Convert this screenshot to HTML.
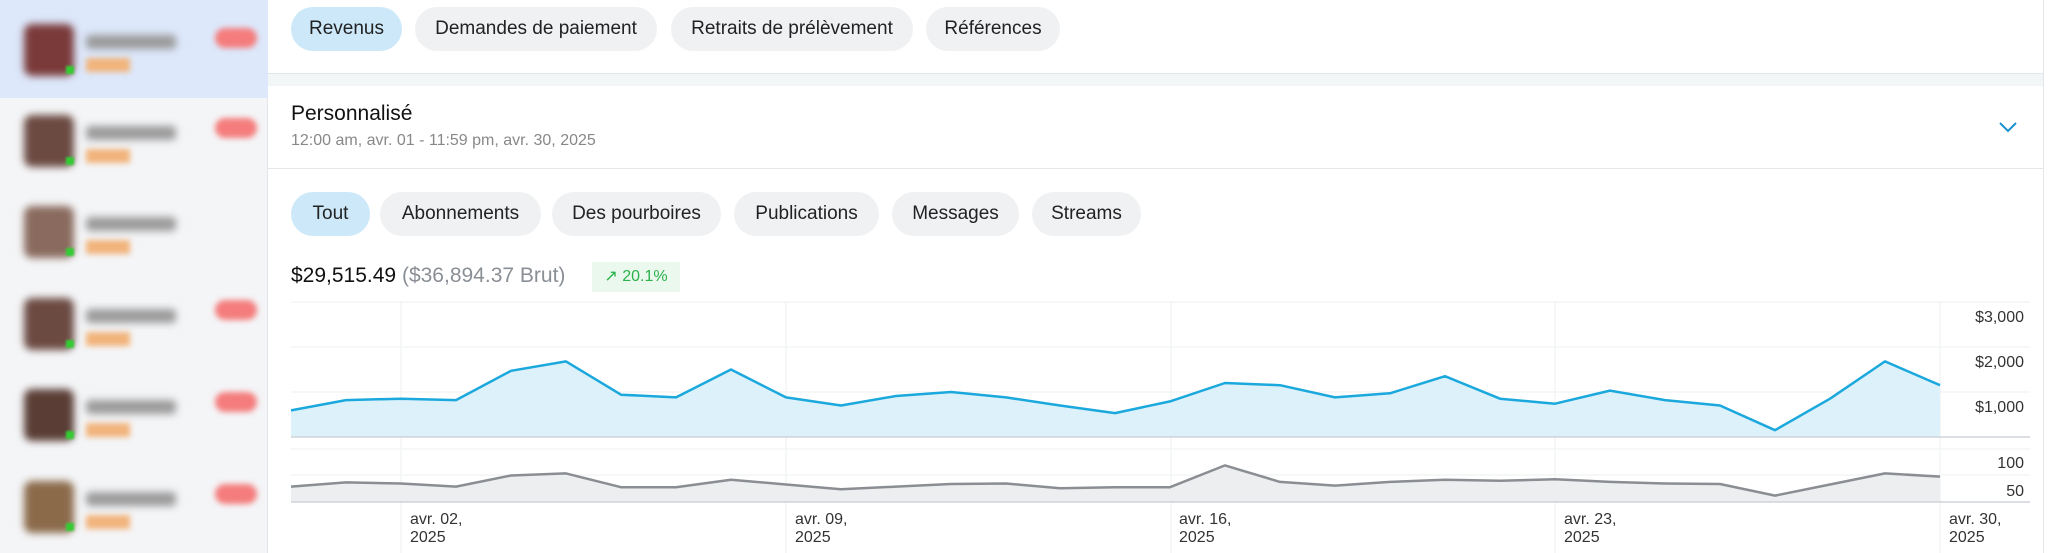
<!DOCTYPE html>
<html><head><meta charset="utf-8"><style>
*{margin:0;padding:0;box-sizing:border-box}
body{width:2048px;height:553px;overflow:hidden;background:#fff;font-family:"Liberation Sans",sans-serif;position:relative;color:#222}
.sb{position:absolute;left:0;top:0;width:268px;height:553px;background:#f4f5f7;border-right:1px solid #e4e6ea}
.sel{position:absolute;left:0;top:0;width:268px;height:98px;background:#dde8fb}
.av{position:absolute;left:24px;width:50px;height:52px;border-radius:8px;background:#6b4a42;filter:blur(4px)}
.nm{position:absolute;left:86px;width:90px;height:14px;background:#9a9a9a;filter:blur(4px);border-radius:4px}
.pr{position:absolute;left:86px;width:44px;height:14px;background:#f1b37a;filter:blur(3px)}
.bd{position:absolute;left:215px;width:42px;height:20px;background:#f47c7c;border-radius:10px;filter:blur(3px)}
.dot{position:absolute;left:66px;width:8px;height:8px;background:#3c3;filter:blur(1px)}
.pill{position:absolute;height:44px;border-radius:22px;background:#f0f1f3;font-size:19px;line-height:44px;text-align:center;color:#222}
.on{background:#cde9f9}
</style></head><body>
<div class="sb"><div class="sel"></div>
<div class="av" style="top:24px;background:#7a3a3a"></div><div class="nm" style="top:35px"></div><div class="pr" style="top:58px"></div><div class="bd" style="top:28px"></div><div class="dot" style="top:66px"></div>
<div class="av" style="top:115px"></div><div class="nm" style="top:126px"></div><div class="pr" style="top:149px"></div><div class="bd" style="top:118px"></div><div class="dot" style="top:157px"></div>
<div class="av" style="top:206px;background:#8a6a5e"></div><div class="nm" style="top:217px"></div><div class="pr" style="top:240px"></div><div class="dot" style="top:248px"></div>
<div class="av" style="top:298px"></div><div class="nm" style="top:309px"></div><div class="pr" style="top:332px"></div><div class="bd" style="top:300px"></div><div class="dot" style="top:340px"></div>
<div class="av" style="top:389px;background:#5a3e36"></div><div class="nm" style="top:400px"></div><div class="pr" style="top:423px"></div><div class="bd" style="top:392px"></div><div class="dot" style="top:431px"></div>
<div class="av" style="top:481px;background:#8b6a4a"></div><div class="nm" style="top:492px"></div><div class="pr" style="top:515px"></div><div class="bd" style="top:484px"></div><div class="dot" style="top:523px"></div>
</div>
<div style="position:absolute;left:2043px;top:0;width:1px;height:553px;background:#e4e6ea"></div>
<div class="pill on" style="left:291px;top:7px;width:111px">Revenus</div>
<div class="pill" style="left:415px;top:7px;width:242px">Demandes de paiement</div>
<div class="pill" style="left:671px;top:7px;width:242px">Retraits de prélèvement</div>
<div class="pill" style="left:926px;top:7px;width:134px">Références</div>
<div style="position:absolute;left:268px;top:73px;width:1775px;height:13px;background:#f2f6f7;border-top:1px solid #e2e6e8"></div>
<div style="position:absolute;left:291px;top:102px;font-size:21px;font-weight:500;color:#111">Personnalisé</div>
<div style="position:absolute;left:291px;top:132px;font-size:16px;color:#888">12:00 am, avr. 01 - 11:59 pm, avr. 30, 2025</div>
<svg style="position:absolute;left:1998px;top:120px" width="20" height="14"><polyline points="2,3 10,11 18,3" fill="none" stroke="#1a8fd0" stroke-width="2"/></svg>
<div style="position:absolute;left:268px;top:168px;width:1775px;height:1px;background:#e4e6ea"></div>
<div class="pill on" style="left:291px;top:192px;width:79px">Tout</div>
<div class="pill" style="left:380px;top:192px;width:161px">Abonnements</div>
<div class="pill" style="left:552px;top:192px;width:169px">Des pourboires</div>
<div class="pill" style="left:734px;top:192px;width:145px">Publications</div>
<div class="pill" style="left:892px;top:192px;width:127px">Messages</div>
<div class="pill" style="left:1032px;top:192px;width:109px">Streams</div>
<div style="position:absolute;left:291px;top:264px;font-size:21px;white-space:nowrap"><span style="color:#111;font-weight:500">$29,515.49</span> <span style="color:#8a8f96">($36,894.37 Brut)</span></div>
<div style="position:absolute;left:592px;top:262px;width:88px;height:30px;background:#eaf8ee;color:#2bb24c;font-size:16px;line-height:30px;text-align:center">↗ 20.1%</div>
<svg style="position:absolute;left:0;top:0" width="2048" height="553" font-family="Liberation Sans, sans-serif">
<g stroke="#eef0f2" stroke-width="1">
<line x1="291" y1="302" x2="2030" y2="302"/><line x1="291" y1="347" x2="2030" y2="347"/><line x1="291" y1="392" x2="2030" y2="392"/>
<line x1="291" y1="449" x2="2030" y2="449"/><line x1="291" y1="475" x2="2030" y2="475"/>
<line x1="401" y1="302" x2="401" y2="553"/><line x1="786" y1="302" x2="786" y2="553"/><line x1="1171" y1="302" x2="1171" y2="553"/><line x1="1555" y1="302" x2="1555" y2="553"/><line x1="1940" y1="302" x2="1940" y2="553"/>
</g>
<polygon fill="#ddf1fb" points="291,437 291,410.4 346,400.1 401,398.7 456,400.1 511,370.8 566,361.4 621,394.7 676,397.4 731,369.5 786,397.4 841,405.5 896,396 951,392 1006,397.4 1060,405.5 1115,413.1 1170,401.4 1225,383 1280,385.2 1335,397.4 1390,393.3 1445,376.2 1500,398.7 1555,403.7 1610,390.6 1665,400.1 1720,405.5 1775,430.2 1830,398.7 1885,361.4 1940,385.2 1940,437"/>
<polyline fill="none" stroke="#1ba8dc" stroke-width="2.5" stroke-linejoin="round" points="291,410.4 346,400.1 401,398.7 456,400.1 511,370.8 566,361.4 621,394.7 676,397.4 731,369.5 786,397.4 841,405.5 896,396 951,392 1006,397.4 1060,405.5 1115,413.1 1170,401.4 1225,383 1280,385.2 1335,397.4 1390,393.3 1445,376.2 1500,398.7 1555,403.7 1610,390.6 1665,400.1 1720,405.5 1775,430.2 1830,398.7 1885,361.4 1940,385.2"/>
<line x1="291" y1="437" x2="2030" y2="437" stroke="#cfd4d8" stroke-width="1.5"/>
<polygon fill="#eceef0" points="291,502 291,486.6 346,482.4 401,483.5 456,486.6 511,475.5 566,473.4 621,487.2 676,487.2 731,479.7 786,484.5 841,489.3 896,486.6 951,484 1006,483.5 1060,488.2 1115,487.2 1170,487.2 1225,465.4 1280,481.9 1335,485.6 1390,481.9 1445,479.7 1500,480.8 1555,479.2 1610,481.9 1665,483.5 1720,484 1775,495.6 1830,484.5 1885,473.4 1940,476.6 1940,502"/>
<polyline fill="none" stroke="#8a8e93" stroke-width="2.5" stroke-linejoin="round" points="291,486.6 346,482.4 401,483.5 456,486.6 511,475.5 566,473.4 621,487.2 676,487.2 731,479.7 786,484.5 841,489.3 896,486.6 951,484 1006,483.5 1060,488.2 1115,487.2 1170,487.2 1225,465.4 1280,481.9 1335,485.6 1390,481.9 1445,479.7 1500,480.8 1555,479.2 1610,481.9 1665,483.5 1720,484 1775,495.6 1830,484.5 1885,473.4 1940,476.6"/>
<line x1="291" y1="502" x2="2030" y2="502" stroke="#cfd4d8" stroke-width="1.5"/>
<g font-size="16" fill="#333" text-anchor="end">
<text x="2024" y="322">$3,000</text><text x="2024" y="367">$2,000</text><text x="2024" y="412">$1,000</text>
<text x="2024" y="468">100</text><text x="2024" y="496">50</text>
</g>
<g font-size="16" fill="#333">
<text x="410" y="524">avr. 02,</text><text x="410" y="542">2025</text>
<text x="795" y="524">avr. 09,</text><text x="795" y="542">2025</text>
<text x="1179" y="524">avr. 16,</text><text x="1179" y="542">2025</text>
<text x="1564" y="524">avr. 23,</text><text x="1564" y="542">2025</text>
<text x="1949" y="524">avr. 30,</text><text x="1949" y="542">2025</text>
</g>
</svg>
</body></html>
